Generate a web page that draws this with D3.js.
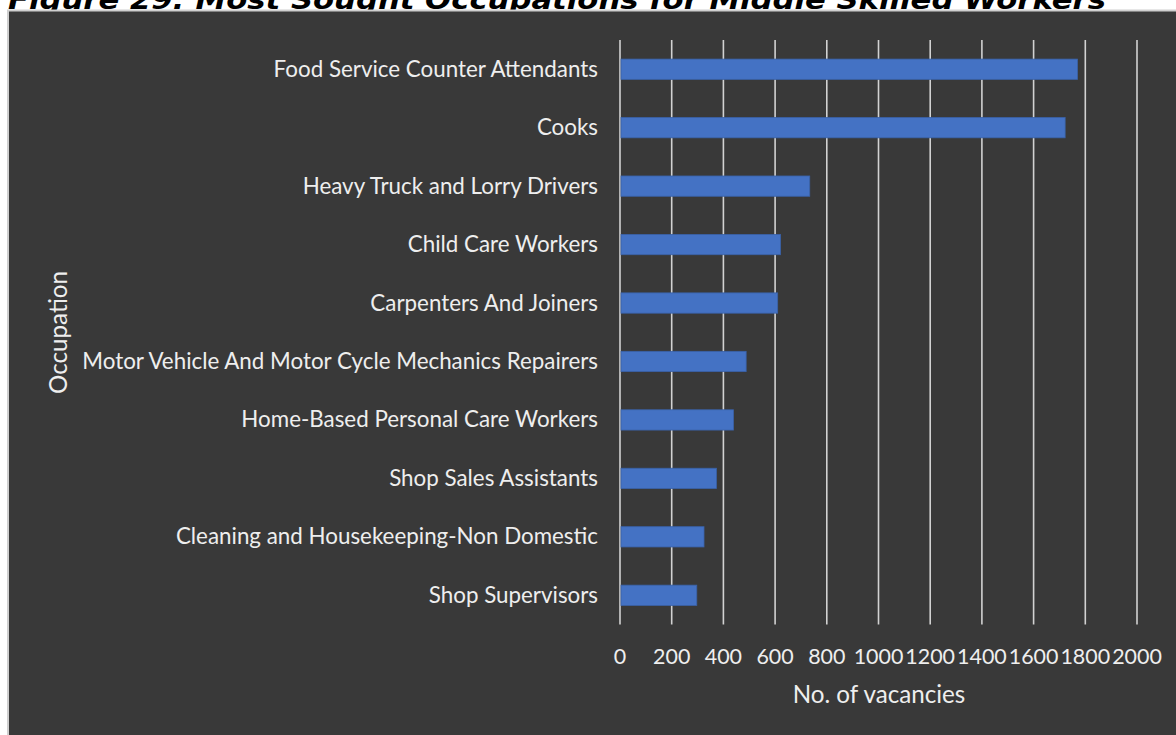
<!DOCTYPE html>
<html>
<head>
<meta charset="utf-8">
<script src="https://cdn.jsdelivr.net/npm/d3@7"></script>
<style>
html,body{margin:0;padding:0;background:#ffffff;overflow:hidden;}
svg{display:block;}
</style>
</head>
<body>
<svg id="chart" width="1176" height="735"></svg>
<script>
const titleText = "Figure 29: Most Sought Occupations for Middle Skilled Workers";
const categories = [
  "Food Service Counter Attendants",
  "Cooks",
  "Heavy Truck and Lorry Drivers",
  "Child Care Workers",
  "Carpenters And Joiners",
  "Motor Vehicle And Motor Cycle Mechanics Repairers",
  "Home-Based Personal Care Workers",
  "Shop Sales Assistants",
  "Cleaning and Housekeeping-Non Domestic",
  "Shop Supervisors"
];
const vacancies = [1770, 1722, 734, 621, 610, 488, 439, 373, 325, 297];
const xTicks = [0, 200, 400, 600, 800, 1000, 1200, 1400, 1600, 1800, 2000];
const xAxisTitle = "No. of vacancies";
const yAxisTitle = "Occupation";

const svg = d3.select("#chart");
const W = 1176, H = 735;
const textColor = "#eeeeee";
const fontFam = "Lato, 'Open Sans', sans-serif";

// title (partially cut at top)
svg.append("text")
  .attr("x", 8).attr("y", 8.5)
  .attr("textLength", 1098).attr("lengthAdjust", "spacingAndGlyphs")
  .style("font-family", "'DejaVu Sans', Verdana, sans-serif")
  .style("font-weight", "bold").style("font-style", "italic")
  .style("font-size", "27px").attr("fill", "#000")
  .text(titleText);

// chart area background with border
svg.append("rect").attr("x", 8).attr("y", 10.5).attr("width", W).attr("height", H)
  .attr("fill", "#393939").attr("stroke", "#cfcfcf").attr("stroke-width", 2);

const x = d3.scaleLinear().domain([0, 2000]).range([620, 1137]);
const y = d3.scaleBand().domain(categories).range([40, 624.5]).paddingInner(0.653).paddingOuter(0.3265);

// gridlines
svg.append("g").selectAll("line").data(xTicks).join("line")
  .attr("x1", d => x(d)).attr("x2", d => x(d))
  .attr("y1", 40).attr("y2", 624.5)
  .attr("stroke", "#d2d2d2").attr("stroke-width", 1.6);

// bars
svg.append("g").selectAll("rect").data(categories).join("rect")
  .attr("x", x(0) + 1)
  .attr("y", d => y(d))
  .attr("width", (d, i) => x(vacancies[i]) - x(0) - 1)
  .attr("height", y.bandwidth())
  .attr("fill", "#4472C4").attr("stroke", "#3a62a8").attr("stroke-width", 0.8);

// category labels
const catG = svg.append("g");
const catLabels = catG.selectAll("text").data(categories).join("text")
  .attr("x", 598)
  .attr("y", d => y(d) + y.bandwidth() / 2 + 7.5)
  .attr("text-anchor", "end")
  .style("font-family", fontFam).style("font-size", "22px")
  .attr("fill", textColor)
  .text(d => d);

// fit font size so longest label matches target width
let maxW = 0;
catLabels.each(function(){ maxW = Math.max(maxW, this.getComputedTextLength()); });
const k = 516 / maxW;
catLabels.style("font-size", (22 * k) + "px");

// x tick labels
svg.append("g").selectAll("text").data(xTicks).join("text")
  .attr("x", d => x(d)).attr("y", 664)
  .attr("text-anchor", "middle")
  .style("font-family", fontFam).style("font-size", (21.1 * k) + "px")
  .attr("fill", textColor)
  .text(d => d);

// axis titles
svg.append("text")
  .attr("x", 879).attr("y", 702.5)
  .attr("text-anchor", "middle")
  .style("font-family", fontFam).style("font-size", (23.8 * k) + "px")
  .attr("fill", textColor)
  .text(xAxisTitle);

svg.append("text")
  .attr("transform", "translate(67,332.5) rotate(-90)")
  .attr("text-anchor", "middle")
  .style("font-family", fontFam).style("font-size", (23.8 * k) + "px")
  .attr("fill", textColor)
  .text(yAxisTitle);
</script>
</body>
</html>
